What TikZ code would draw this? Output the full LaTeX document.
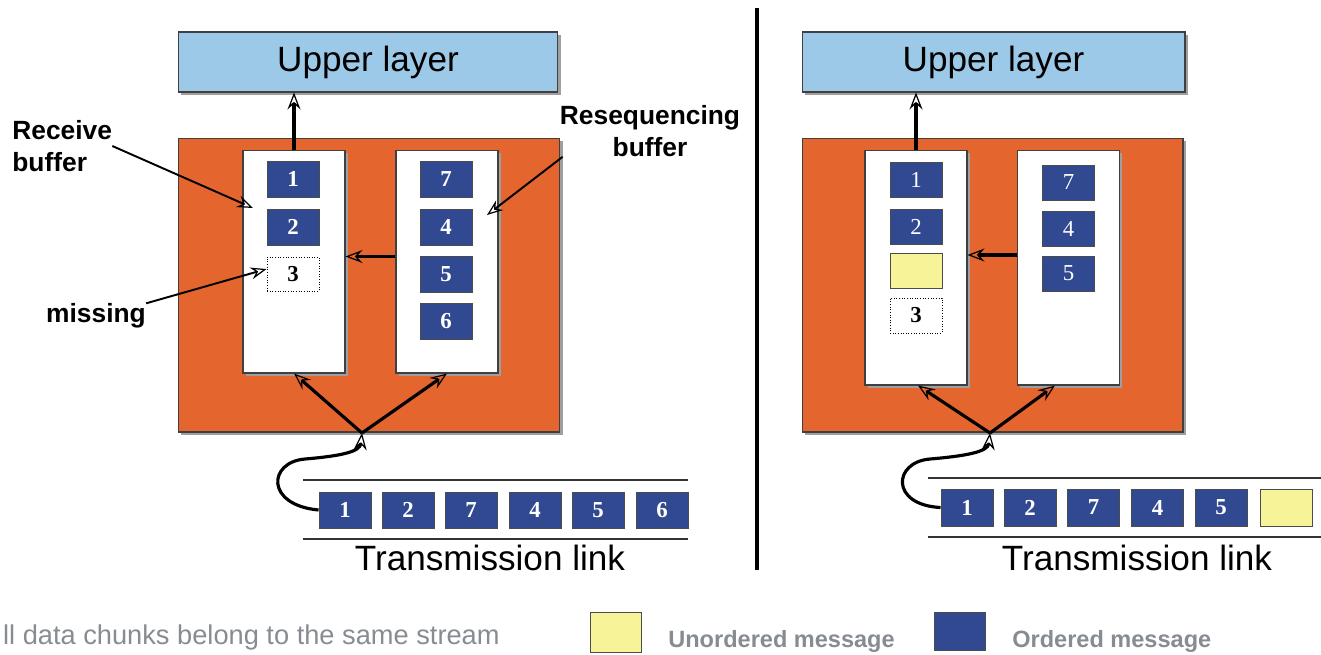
\documentclass[tikz,border=0pt]{standalone}
\usepackage{fontspec}
\setmainfont{Liberation Sans}
\newfontfamily\numfont{Liberation Serif}
\usetikzlibrary{arrows.meta,shadows}
\definecolor{chunkblue}{RGB}{49,73,145}
\definecolor{unordyellow}{RGB}{247,243,152}
\definecolor{layerblue}{RGB}{157,201,232}
\definecolor{hostorange}{RGB}{228,101,46}
\definecolor{notegray}{RGB}{135,140,146}

\begin{document}
\begin{tikzpicture}[
        x=0.02cm, y=-0.02cm,
        every node/.style={font=\fontsize{15}{18}\selectfont},
        % Box Styles
        shadowed/.style={
            drop shadow={shadow xshift=1.6pt, shadow yshift=-1.6pt, fill=gray!75, opacity=1}
        },
        layerbox/.style={
            rectangle, shadowed,
            draw=black!75, line width=0.6pt,
            fill=layerblue,
            minimum width=7.6cm, minimum height=1.2cm,
            font=\fontsize{20}{24}\selectfont
        },
        hostbox/.style={
            rectangle, shadowed,
            draw=black!75, line width=0.6pt,
            fill=hostorange,
            minimum width=7.64cm, minimum height=5.88cm
        },
        bufbox/.style={
            rectangle, shadowed,
            draw=black!75, line width=0.6pt,
            fill=white,
            minimum width=2.04cm, minimum height=4.46cm
        },
        chunk/.style={
            rectangle,
            draw=black!70, line width=0.5pt,
            fill=chunkblue, text=white,
            inner sep=0pt,
            minimum width=1.04cm, minimum height=0.72cm,
            font=\numfont\bfseries\fontsize{13}{15}\selectfont
        },
        plainchunk/.style={chunk, font=\numfont\fontsize{13}{15}\selectfont},
        yellowchunk/.style={chunk, fill=unordyellow},
        misschunk/.style={chunk, fill=white, text=black, draw=black, densely dotted},
        lbl/.style={font=\bfseries\fontsize{15}{18}\selectfont, inner sep=0pt},
        linktxt/.style={font=\fontsize{20}{24}\selectfont, inner sep=0pt},
        legendtxt/.style={font=\bfseries\fontsize{13.4}{16}\selectfont, text=notegray, inner sep=0pt},
        notetxt/.style={font=\fontsize{15.5}{18}\selectfont, text=notegray, inner sep=0pt},
        % Connector Styles
        mainarrow/.style={-{Stealth[open, length=3.4mm, width=2.6mm, inset=1.2mm, line width=0.7pt]}, line width=1.8pt},
        lblarrow/.style={-{Stealth[open, length=3.2mm, width=2.4mm, inset=1.1mm, line width=0.7pt]}, line width=1.1pt},
        linkline/.style={draw=black!80, line width=0.7pt}
    ]
    \useasboundingbox (0,0) rectangle (1321,654);

    % --- Left: receiver with resequencing ---
    \node[layerbox] (upperL) at (368,62) {Upper layer};
    \node[hostbox] (hostL) at (369,285) {};
    \node[bufbox] (recvL) at (294,261.5) {};
    \node[bufbox] (reseqL) at (447,261.5) {};

    \node[chunk] (r1L) at (293,179) {1};
    \node[chunk] (r2L) at (293,227) {2};
    \node[misschunk, minimum height=0.68cm] (m3L) at (293,274) {3};

    \node[chunk] (s7L) at (446,179) {7};
    \node[chunk] (s4L) at (446,227) {4};
    \node[chunk] (s5L) at (446,274) {5};
    \node[chunk] (s6L) at (446,321) {6};

    % Transmission link
    \draw[linkline] (303,480) -- (688,480);
    \draw[linkline] (303,539) -- (688,539);
    \node[chunk] (t1L) at (345,510) {1};
    \node[chunk] (t2L) at (408,510) {2};
    \node[chunk] (t7L) at (471,510) {7};
    \node[chunk] (t4L) at (535,510) {4};
    \node[chunk] (t5L) at (598,510) {5};
    \node[chunk] (t6L) at (662,510) {6};
    \node[linktxt] (linkL) at (490,558) {Transmission link};

    % Labels
    \node[lbl, align=left, anchor=west] (rcvlbl) at (12,146) {Receive\\buffer};
    \node[lbl, align=center] (reslbl) at (650,131) {Resequencing\\buffer};
    \node[lbl] (misslbl) at (96,316) {missing};
    \coordinate (rcvpt) at (253,208);
    \coordinate (respt) at (487,215);
    \draw[lblarrow] (rcvlbl.east) -- (rcvpt);
    \draw[lblarrow] ([xshift=0.06cm]reslbl.south west) -- (respt);
    \draw[lblarrow] (misslbl.north east) -- ([yshift=0.1cm]m3L.west);

    % Paths
    \coordinate (jL) at (362,433);
    \draw[mainarrow] (recvL.north) -- (recvL.north |- upperL.south);
    \draw[mainarrow] ([yshift=0.1cm]reseqL.west) -- ([yshift=0.1cm]recvL.east);
    \draw[mainarrow] (jL) -- (recvL.south);
    \draw[mainarrow] (jL) -- (reseqL.south);
    \draw[mainarrow] (t1L.west) .. controls (265,505) and (268,462) .. (305,459)
        .. controls (340,456) and (360,452) .. (jL);

    % --- Divider ---
    \draw[line width=1.8pt] (757,8) -- (757,570);

    % --- Right: unordered message delivered at once ---
    \node[layerbox, minimum width=7.66cm] (upperR) at (993.5,62) {Upper layer};
    \node[hostbox, minimum width=7.62cm] (hostR) at (992.5,285) {};
    \node[bufbox, minimum height=4.7cm] (recvR) at (916,267.5) {};
    \node[bufbox, minimum height=4.7cm] (reseqR) at (1068.5,267.5) {};

    \node[plainchunk, minimum height=0.7cm] (r1R) at (916,179.5) {1};
    \node[plainchunk, minimum height=0.7cm] (r2R) at (916,226.5) {2};
    \node[yellowchunk, minimum height=0.7cm] (uR) at (916,270.5) {};
    \node[misschunk, minimum height=0.7cm] (m3R) at (916,315.5) {3};

    \node[plainchunk, minimum height=0.7cm] (s7R) at (1068.5,182.5) {7};
    \node[plainchunk, minimum height=0.7cm] (s4R) at (1068.5,228.5) {4};
    \node[plainchunk, minimum height=0.7cm] (s5R) at (1068.5,273.5) {5};

    % Transmission link
    \draw[linkline] (928,478) -- (1321,478);
    \draw[linkline] (928,537) -- (1321,537);
    \node[chunk, minimum height=0.74cm] (t1R) at (967,507.5) {1};
    \node[chunk, minimum height=0.74cm] (t2R) at (1030,507.5) {2};
    \node[chunk, minimum height=0.74cm] (t7R) at (1093.5,507.5) {7};
    \node[chunk, minimum height=0.74cm] (t4R) at (1157.5,507.5) {4};
    \node[chunk, minimum height=0.74cm] (t5R) at (1221,507.5) {5};
    \node[yellowchunk, minimum height=0.74cm] (tuR) at (1286,507.5) {};
    \node[linktxt] (linkR) at (1137,558) {Transmission link};

    % Paths
    \coordinate (jR) at (990,433);
    \draw[mainarrow] (recvR.north) -- (recvR.north |- upperR.south);
    \draw[mainarrow] ([yshift=0.25cm]reseqR.west) -- ([yshift=0.25cm]recvR.east);
    \draw[mainarrow] (jR) -- ([xshift=0.04cm]recvR.south);
    \draw[mainarrow] (jR) -- ([xshift=-0.27cm]reseqR.south);
    \draw[mainarrow] (t1R.west) .. controls (890,505) and (893,462) .. (930,459)
        .. controls (965,456) and (988,452) .. (jR);

    % --- Legend ---
    \node[notetxt, anchor=east] (note) at (500,637) {ll data chunks belong to the same stream};
    \node[yellowchunk, minimum width=1.02cm, minimum height=0.8cm] (keyU) at (615.5,632) {};
    \node[legendtxt, anchor=west] (keyUtxt) at (668,641) {Unordered message};
    \node[chunk, minimum width=1.02cm, minimum height=0.76cm] (keyO) at (959.5,631) {};
    \node[legendtxt, anchor=west] (keyOtxt) at (1012,641) {Ordered message};

\end{tikzpicture}
\end{document}
